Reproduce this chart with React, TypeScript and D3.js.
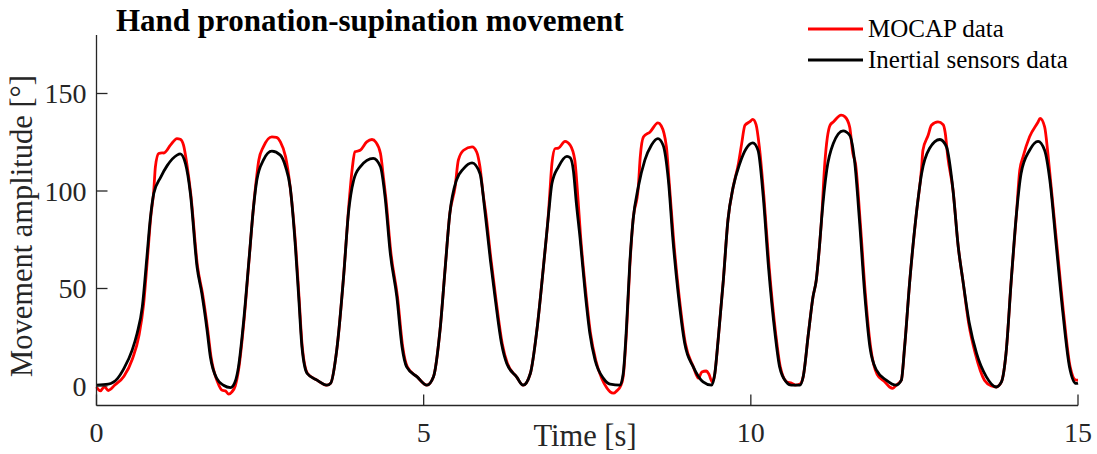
import React from "react";
import * as d3 from "d3";

// Optical motion capture (reference) angle, time in seconds and angle in degrees
const mocapTime = [
  0.0, 0.06, 0.12, 0.18, 0.28, 0.42, 0.55, 0.65, 0.72, 0.78, 0.83, 0.875, 0.9, 0.95, 1.0, 1.03, 1.13, 1.23, 1.28, 1.33, 1.38, 1.44,
  1.545, 1.62, 1.7, 1.75, 1.85, 1.92, 1.97, 2.02, 2.07, 2.12, 2.17, 2.25, 2.33, 2.4, 2.45, 2.48, 2.55, 2.68, 2.75, 2.81, 2.89, 2.96,
  3.045, 3.095, 3.145, 3.225, 3.37, 3.52, 3.58, 3.67, 3.78, 3.85, 3.91, 3.95, 4.03, 4.13, 4.21, 4.27, 4.34, 4.39, 4.42, 4.5, 4.6,
  4.68, 4.75, 4.9, 5.05, 5.15, 5.25, 5.33, 5.4, 5.48, 5.53, 5.61, 5.74, 5.81, 5.86, 5.91, 5.95, 6.03, 6.1, 6.2, 6.28, 6.42, 6.52,
  6.63, 6.73, 6.83, 6.91, 6.93, 6.96, 7.01, 7.06, 7.16, 7.24, 7.31, 7.35, 7.4, 7.48, 7.55, 7.63, 7.72, 7.8, 7.85, 7.9, 7.95, 8.01,
  8.05, 8.1, 8.15, 8.2, 8.28, 8.31, 8.36, 8.46, 8.58, 8.63, 8.71, 8.75, 8.82, 8.9, 9.0, 9.12, 9.2, 9.25, 9.32, 9.36, 9.41, 9.45,
  9.5, 9.58, 9.65, 9.73, 9.81, 9.86, 9.91, 9.98, 10.03, 10.08, 10.13, 10.2, 10.28, 10.38, 10.45, 10.55, 10.62, 10.68, 10.75, 10.8,
  10.88, 10.95, 11.0, 11.05, 11.08, 11.13, 11.21, 11.26, 11.38, 11.44, 11.51, 11.56, 11.6, 11.67, 11.75, 11.83, 11.93, 12.05,
  12.12, 12.17, 12.22, 12.3, 12.35, 12.43, 12.53, 12.61, 12.63, 12.71, 12.76, 12.86, 12.94, 12.97, 13.01, 13.09, 13.17, 13.24,
  13.33, 13.43, 13.57, 13.68, 13.75, 13.83, 13.9, 13.98, 14.06, 14.11, 14.16, 14.26, 14.39, 14.42, 14.49, 14.54, 14.58, 14.68,
  14.78, 14.88, 14.97, 15.0,
];
const mocapAngle = [
  -0.5, -2.5, -0.3, -2.3, 0.5, 5, 14, 26, 42, 66, 87, 100, 112.4, 119.2, 119.6, 119.5, 123.5, 126.9, 126.5, 123.5, 114, 98.7,
  61, 47.4, 28.6, 15, 2, -2.2, -2.5, -4.2, -3, 0, 8, 32, 64, 92, 108, 115.8, 122.6, 127.8, 127.5, 125.2, 117.5, 102,
  71.3, 45.7, 20, 6.4, 3, 0.4, 1.5, 18, 57.7, 90, 112, 120.1, 120.9, 125.2, 126.4, 125, 119.2, 105.5, 97, 68, 45.7,
  20, 9.8, 4.7, 0.4, 4.7, 28.6, 61, 88.5, 102, 115.8, 120.9, 122.6, 120, 112.4, 98, 88.5, 64.5, 45.7, 21.8, 11.5, 4.7, 0.4,
  6.4, 28.6, 61, 90, 100, 114, 121.8, 122, 125.5, 123.5, 115.8, 100, 76, 47.4, 26.9, 13.2, 4, -1, -3, -3.7, -2.5, 0,
  5, 28, 61, 85, 102, 117.5, 127.8, 130.3, 134.9, 133.5, 122.6, 105.5, 74.8, 47.4, 21.8, 10, 4, 7.2, 7.7, 6, 2.1, 6.4,
  23.5, 54.3, 85, 102, 114, 124.3, 133.7, 135.4, 136.7, 134, 122.6, 97, 61, 26.9, 9.8, 2.1, 1.5, 0.5, 1.0, 4.7,
  26.9, 45.7, 54.3, 72, 85, 114, 133.7, 135.4, 138.9, 138, 132.9, 119.2, 114, 85, 47.4, 20, 6, 2,
  -0.5, -1.2, 0.4, 3, 20, 54.3, 88.5, 112, 120.9, 128.6, 133.7, 135.4, 134, 130, 117.5, 100.4, 71.3, 54.3,
  32, 16.7, 3, 0, -0.5, 2.1, 16.7, 54.3, 88.5, 110.7, 117.5, 127.8, 135.4, 137.2, 132.9, 119.2, 105.5, 71.3,
  37.2, 9.8, 3, 3,
];

// Inertial sensor estimate of the same angle
const imuTime = [
  0.0, 0.18, 0.32, 0.42, 0.545, 0.62, 0.7, 0.77, 0.82, 0.875, 0.98, 1.08, 1.23, 1.28, 1.36, 1.435, 1.537, 1.61, 1.69, 1.74, 1.84,
  1.94, 2.05, 2.12, 2.17, 2.25, 2.33, 2.4, 2.45, 2.55, 2.68, 2.81, 2.89, 2.96, 3.04, 3.09, 3.14, 3.22, 3.37, 3.52, 3.58, 3.67,
  3.78, 3.85, 3.93, 4.03, 4.23, 4.34, 4.41, 4.49, 4.59, 4.67, 4.74, 4.9, 5.05, 5.15, 5.25, 5.33, 5.4, 5.5, 5.61, 5.74, 5.86,
  5.94, 6.02, 6.09, 6.19, 6.27, 6.42, 6.52, 6.63, 6.73, 6.83, 6.91, 6.96, 7.06, 7.19, 7.24, 7.29, 7.33, 7.39, 7.47, 7.54, 7.62,
  7.75, 7.85, 8.0, 8.05, 8.1, 8.15, 8.2, 8.28, 8.38, 8.48, 8.58, 8.66, 8.74, 8.81, 8.89, 8.99, 9.12, 9.27, 9.4, 9.45, 9.5, 9.58,
  9.65, 9.73, 9.83, 9.93, 10.03, 10.11, 10.19, 10.27, 10.37, 10.44, 10.54, 10.62, 10.75, 10.8, 10.88, 10.95, 11.0, 11.05, 11.08,
  11.16, 11.26, 11.41, 11.51, 11.59, 11.66, 11.74, 11.82, 11.92, 12.07, 12.22, 12.3, 12.35, 12.43, 12.53, 12.61, 12.73, 12.89,
  12.99, 13.09, 13.17, 13.24, 13.34, 13.45, 13.6, 13.75, 13.83, 13.9, 13.98, 14.06, 14.13, 14.26, 14.39, 14.49, 14.57, 14.67,
  14.77, 14.87, 14.97, 15.0,
];
const imuAngle = [
  0.5, 1.0, 3.8, 9, 18.4, 26.9, 40.6, 66, 85, 98.7, 107, 113, 118.4, 119, 114, 98.7, 61, 47.4, 28.6, 15, 3.8,
  0.4, -0.8, 2.3, 9.8, 33.7, 64.5, 91.8, 105.5, 115.8, 120.4, 118.4, 112.4, 102, 71.3, 45.7, 20, 6.4, 3, 0.4, 1.5, 18,
  57.7, 88.5, 105.5, 112.4, 116.7, 112.4, 97, 68, 45.7, 20, 9.8, 4.7, 0.4, 4.7, 28.6, 61, 88.5, 105.5, 111.5, 114.4, 109,
  88.5, 64.5, 45.7, 21.8, 11.5, 4.7, 0.4, 6.4, 28.6, 61, 88.5, 103.8, 112.4, 117.8, 117, 110, 95, 76, 47.4, 26.9, 13.2,
  3.8, 0.9, 0.4, 6.4, 30.3, 62.8, 85, 102, 115.8, 123.5, 126.9, 123.5, 105.5, 74.8, 47.4, 21.8, 9.8, 2.1, 0.4, 6.4, 23.5, 54.3,
  85, 102, 114, 121.8, 124.7, 120.9, 97, 61, 26.9, 9.8, 2.1, 0.4, 0.4, 4.7, 26.9, 45.7, 54.3, 72, 85,
  110.7, 124.3, 130.8, 128.6, 114, 85, 47.4, 20, 8.1, 3, 0.4, 3, 20, 54.3, 88.5, 109, 121.8, 126.4,
  122.6, 100.4, 71.3, 54.3, 32, 16.7, 4.7, -0.5, 2.1, 16.7, 54.3, 88.5, 109, 120.9, 125.5, 120.9, 105.5, 71.3,
  37.2, 9.8, 1.3, 1.5,
];

const xTicks = [0, 5, 10, 15];
const yTicks = [0, 50, 100, 150];
const seriesNames = ["MOCAP data", "Inertial sensors data"];
const seriesColors = ["#ff0000", "#000000"];

const W = 1097;
const H = 454;
const left = 96.5;
const right = 1078;
const top = 35;
const bottom = 405.5;
const axisColor = "#262626";
const serif = "'Liberation Serif', 'Times New Roman', serif";

export default function App() {
  const x = d3.scaleLinear().domain([0, 15]).range([left, right]);
  const y = d3.scaleLinear().domain([-10, 180]).range([bottom, top]);

  const line = d3
    .line<[number, number]>()
    .x((d) => x(d[0]))
    .y((d) => y(d[1]))
    .curve(d3.curveMonotoneX);

  const mocap = mocapTime.map((t, i) => [t, mocapAngle[i]] as [number, number]);
  const imu = imuTime.map((t, i) => [t, imuAngle[i]] as [number, number]);

  const tickLen = 11;

  return (
    <svg
      width={W}
      height={H}
      style={{ position: "absolute", left: 0, top: 0, background: "#fff" }}
      fontFamily={serif}
    >
      <rect width={W} height={H} fill="#fff" />

      {/* data */}
      <path d={line(mocap) ?? ""} fill="none" stroke={seriesColors[0]} strokeWidth={2.8} strokeLinejoin="round" />
      <path d={line(imu) ?? ""} fill="none" stroke={seriesColors[1]} strokeWidth={2.8} strokeLinejoin="round" />

      {/* axes */}
      <line x1={left} x2={left} y1={top} y2={bottom} stroke={axisColor} strokeWidth={1.3} />
      <line x1={left} x2={right} y1={bottom} y2={bottom} stroke={axisColor} strokeWidth={1.3} />

      {yTicks.map((v) => (
        <g key={"y" + v}>
          <line x1={left} x2={left + tickLen} y1={y(v)} y2={y(v)} stroke={axisColor} strokeWidth={1.3} />
          <text x={left - 10} y={y(v)} dy="0.35em" textAnchor="end" fontSize={28} fill={axisColor}>
            {v}
          </text>
        </g>
      ))}
      {xTicks.map((v) => (
        <g key={"x" + v}>
          <line x1={x(v)} x2={x(v)} y1={bottom} y2={bottom - tickLen} stroke={axisColor} strokeWidth={1.3} />
          <text x={x(v)} y={442} textAnchor="middle" fontSize={28} fill={axisColor}>
            {v}
          </text>
        </g>
      ))}

      <text x={585} y={446} textAnchor="middle" fontSize={30.5} fill={axisColor}>
        Time [s]
      </text>
      <text
        transform={`translate(32,${226}) rotate(-90)`}
        textAnchor="middle"
        fontSize={30.5}
        fill={axisColor}
      >
        Movement amplitude [°]
      </text>

      <text x={116} y={31} fontSize={31} fontWeight="bold" fill="#000">
        Hand pronation-supination movement
      </text>

      {/* legend */}
      {seriesNames.map((name, i) => (
        <g key={name}>
          <line x1={808} x2={863} y1={29 + i * 31} y2={29 + i * 31} stroke={seriesColors[i]} strokeWidth={2.8} />
          <text x={868} y={29 + i * 31} dy="0.33em" fontSize={25} fill="#000">
            {name}
          </text>
        </g>
      ))}
    </svg>
  );
}
